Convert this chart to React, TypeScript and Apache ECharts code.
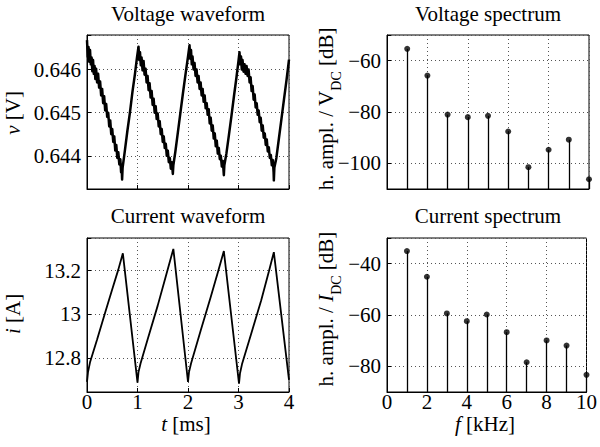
import React, { useEffect, useRef } from "react";
import * as echarts from "echarts";

// ---------- data ----------
// Voltage waveform samples [t (ms), v (V)]
const voltageWave: [number, number][] = [
  [0.0, 0.64668], [0.015, 0.6463], [0.03, 0.64652], [0.045, 0.64618], [0.06, 0.64645], [0.075, 0.64612],
  [0.09, 0.64628], [0.105, 0.64596], [0.12, 0.64622], [0.135, 0.6459], [0.15, 0.64608], [0.165, 0.64578],
  [0.18, 0.64602], [0.2, 0.6457], [0.22, 0.6459], [0.24, 0.64558], [0.26, 0.64572], [0.28, 0.6454],
  [0.3, 0.64555], [0.32, 0.64522], [0.34, 0.64538], [0.36, 0.64505], [0.38, 0.6452], [0.4, 0.6449],
  [0.42, 0.645], [0.44, 0.64468], [0.46, 0.64482], [0.48, 0.6445], [0.5, 0.64462], [0.52, 0.64432],
  [0.54, 0.64445], [0.56, 0.64412], [0.58, 0.64425], [0.6, 0.64395], [0.62, 0.64408], [0.64, 0.6438],
  [0.66, 0.64392], [0.675, 0.64362], [0.685, 0.6438], [0.695, 0.64345], [0.705, 0.64372],
  [0.75, 0.64412], [0.8, 0.64458], [0.85, 0.645], [0.9, 0.64548], [0.95, 0.6459], [0.99, 0.64628], [1.02, 0.64653],
  [1.035, 0.64622], [1.05, 0.6464], [1.065, 0.6461], [1.08, 0.64628], [1.1, 0.64598], [1.12, 0.6462],
  [1.14, 0.64588], [1.16, 0.64602], [1.18, 0.6457], [1.2, 0.64585], [1.22, 0.64552], [1.24, 0.64568],
  [1.26, 0.64535], [1.28, 0.6455], [1.3, 0.64518], [1.32, 0.64532], [1.34, 0.645], [1.36, 0.64515],
  [1.38, 0.64485], [1.4, 0.64498], [1.42, 0.64468], [1.44, 0.6448], [1.46, 0.6445], [1.48, 0.64462],
  [1.5, 0.64432], [1.52, 0.64445], [1.54, 0.64418], [1.56, 0.64428], [1.58, 0.644], [1.6, 0.64412],
  [1.62, 0.64385], [1.64, 0.64395], [1.66, 0.6437], [1.68, 0.64385], [1.7, 0.64358], [1.71, 0.64378],
  [1.75, 0.6441], [1.8, 0.64455], [1.85, 0.645], [1.9, 0.64545], [1.95, 0.64588], [2.0, 0.6463], [2.03, 0.64656],
  [2.045, 0.64625], [2.06, 0.64645], [2.075, 0.64612], [2.09, 0.6463], [2.11, 0.646], [2.13, 0.64615],
  [2.15, 0.64585], [2.17, 0.646], [2.19, 0.6457], [2.21, 0.64585], [2.23, 0.64555], [2.25, 0.6457],
  [2.27, 0.6454], [2.29, 0.64555], [2.31, 0.64525], [2.33, 0.6454], [2.35, 0.6451], [2.37, 0.64522],
  [2.39, 0.64495], [2.41, 0.64508], [2.43, 0.64475], [2.45, 0.64488], [2.47, 0.64458], [2.49, 0.6447],
  [2.51, 0.6444], [2.53, 0.64452], [2.55, 0.64422], [2.57, 0.64435], [2.59, 0.64405], [2.61, 0.64418],
  [2.63, 0.64392], [2.65, 0.644], [2.67, 0.64375], [2.69, 0.64388], [2.71, 0.64355], [2.72, 0.64378],
  [2.76, 0.64405], [2.81, 0.64448], [2.86, 0.64492], [2.91, 0.64538], [2.96, 0.64582], [3.0, 0.6462], [3.02, 0.6464],
  [3.035, 0.64612], [3.05, 0.6463], [3.065, 0.646], [3.08, 0.64622], [3.1, 0.64595], [3.12, 0.64612],
  [3.14, 0.6459], [3.16, 0.64608], [3.18, 0.64585], [3.2, 0.646], [3.22, 0.6457], [3.24, 0.64582],
  [3.26, 0.6455], [3.28, 0.64562], [3.3, 0.6453], [3.32, 0.64542], [3.34, 0.64512], [3.36, 0.64522],
  [3.38, 0.64495], [3.4, 0.64505], [3.42, 0.64478], [3.44, 0.64488], [3.46, 0.64458], [3.48, 0.6447],
  [3.5, 0.64442], [3.52, 0.64452], [3.54, 0.64425], [3.56, 0.64438], [3.58, 0.6441], [3.6, 0.6442],
  [3.62, 0.64395], [3.64, 0.64402], [3.66, 0.64378], [3.68, 0.6439], [3.695, 0.64362], [3.7, 0.64343],
  [3.71, 0.64372], [3.75, 0.64395], [3.8, 0.6444], [3.85, 0.64485], [3.9, 0.6453], [3.95, 0.64575], [4.0, 0.64623],
];

// Current waveform samples [t (ms), i (A)]
const currentWave: [number, number][] = [
  [0.0, 12.69], [0.02, 12.735], [0.06, 12.78], [0.2, 12.885], [0.36, 13.008], [0.5, 13.115], [0.62, 13.205], [0.71, 13.28],
  [1.0, 12.687], [1.02, 12.735], [1.06, 12.775], [1.2, 12.885], [1.4, 13.04], [1.55, 13.165], [1.71, 13.3],
  [2.0, 12.69], [2.02, 12.735], [2.06, 12.775], [2.25, 12.925], [2.45, 13.08], [2.6, 13.2], [2.71, 13.29],
  [3.01, 12.682], [3.03, 12.73], [3.07, 12.772], [3.25, 12.91], [3.45, 13.065], [3.6, 13.195], [3.7, 13.285],
  [4.0, 12.7],
];

// Spectra
const harmonicsKHz = [1, 2, 3, 4, 5, 6, 7, 8, 9, 10];
const voltageSpectrumDb = [-55.4, -65.8, -81.0, -82.0, -81.5, -87.6, -101.5, -94.7, -90.8, -106.2];
const currentSpectrumDb = [-35.1, -45.1, -59.4, -62.4, -59.8, -66.7, -78.4, -69.9, -71.9, -83.3];

// Axis ranges
const timeRange = [0, 4];
const freqRange = [0, 10];
const voltRange = [0.64323, 0.6468];
const currRange = [12.644, 13.35];
const vSpecRange = [-110, -50];
const iSpecRange = [-90, -30];

const titles = ["Voltage waveform", "Voltage spectrum", "Current waveform", "Current spectrum"];

const FONT = "Liberation Serif";

export default function App() {
  const ref = useRef<HTMLDivElement>(null);
  useEffect(() => {
    if (!ref.current) return;
    const chart = echarts.init(ref.current, null, { renderer: "svg" });

    const grids = [
      { left: 87, top: 35, width: 202, height: 154 },
      { left: 387, top: 35, width: 202, height: 154 },
      { left: 87, top: 238, width: 202, height: 154 },
      { left: 387, top: 238, width: 202, height: 154 },
    ].map((g) => ({ ...g, show: true, borderColor: "#000", borderWidth: 1, backgroundColor: "transparent" }));

    const splitLine = { show: true, lineStyle: { color: "#555", width: 1, type: [1, 3] as any } };
    const axisLine = { show: true, onZero: false, lineStyle: { color: "#000", width: 1 } };
    const axisTick = { show: true, inside: true, length: 4, lineStyle: { color: "#000" } };
    const labelBase = { color: "#000", fontFamily: FONT, fontSize: 21 };

    const isMult = (v: number, step: number) => Math.abs(v / step - Math.round(v / step)) < 1e-6;
    const minusFmt = (v: number) => (isMult(v, 20) ? (v < 0 ? "\u2212" + Math.abs(v) : String(v)) : "");

    const xAxis = [
      { gridIndex: 0, type: "value", min: timeRange[0], max: timeRange[1], interval: 1, axisLine, axisTick, splitLine, axisLabel: { show: false } },
      { gridIndex: 1, type: "value", min: freqRange[0], max: freqRange[1], interval: 2, axisLine, axisTick, splitLine, axisLabel: { show: false } },
      { gridIndex: 2, type: "value", min: timeRange[0], max: timeRange[1], interval: 1, axisLine, axisTick, splitLine, axisLabel: { ...labelBase, margin: -1, formatter: (v: number) => String(v) } },
      { gridIndex: 3, type: "value", min: freqRange[0], max: freqRange[1], interval: 2, axisLine, axisTick, splitLine, axisLabel: { ...labelBase, margin: -1, formatter: (v: number) => String(v) } },
    ];
    const yAxis = [
      { gridIndex: 0, type: "value", min: voltRange[0], max: voltRange[1], splitNumber: 3, axisLine, axisTick, splitLine,
        axisLabel: { ...labelBase, margin: 6, formatter: (v: number) => (isMult(v, 0.001) ? v.toFixed(3) : "") } },
      { gridIndex: 1, type: "value", min: vSpecRange[0], max: vSpecRange[1], splitNumber: 3, axisLine, axisTick, splitLine,
        axisLabel: { ...labelBase, margin: 6, formatter: minusFmt } },
      { gridIndex: 2, type: "value", min: currRange[0], max: currRange[1], splitNumber: 3, axisLine, axisTick, splitLine,
        axisLabel: { ...labelBase, margin: 6, formatter: (v: number) => (isMult(v, 0.2) ? String(Math.round(v * 10) / 10) : "") } },
      { gridIndex: 3, type: "value", min: iSpecRange[0], max: iSpecRange[1], splitNumber: 3, axisLine, axisTick, splitLine,
        axisLabel: { ...labelBase, margin: 6, formatter: minusFmt } },
    ];

    const stemSeries = (idx: number, vals: number[], base: number) => ({
      type: "scatter",
      xAxisIndex: idx,
      yAxisIndex: idx,
      data: harmonicsKHz.map((h, i) => [h, vals[i]]),
      symbol: "circle",
      symbolSize: 6,
      itemStyle: { color: "#000" },
      emphasis: { disabled: true },
      clip: false,
      z: 3,
      markLine: {
        silent: true,
        symbol: "none",
        label: { show: false },
        lineStyle: { color: "#000", width: 1.3, type: "solid" },
        emphasis: { disabled: true },
        data: harmonicsKHz.map((h, i) => [{ coord: [h, base] }, { coord: [h, vals[i]] }]),
      },
    });

    // rich styles for labels with subscripts
    const richSub = {
      n: { fontFamily: FONT, fontSize: 21, color: "#000", lineHeight: 34 },
      i: { fontFamily: FONT, fontSize: 21, fontStyle: "italic", color: "#000", lineHeight: 34 },
      s: { fontFamily: FONT, fontSize: 14, color: "#000", lineHeight: 14, verticalAlign: "bottom" },
    };
    // rich styles for plain labels (tight boxes)
    const richPlain = {
      n: { fontFamily: FONT, fontSize: 21, color: "#000", lineHeight: 20 },
      i: { fontFamily: FONT, fontSize: 21, fontStyle: "italic", color: "#000", lineHeight: 20 },
    };

    const txt = (x: number, y: number, text: string, rotate = false, sub = false) => ({
      type: "text",
      x,
      y,
      rotation: rotate ? Math.PI / 2 : 0,
      silent: true,
      style: { text, rich: sub ? richSub : richPlain, fill: "#000", fontFamily: FONT, fontSize: 21, align: "center", verticalAlign: "middle" },
    });

    const titleCenters = [
      [188, 13.5], [488, 13.5], [188, 215.5], [488, 215.5],
    ];

    chart.setOption({
      animation: false,
      grid: grids,
      xAxis,
      yAxis,
      series: [
        { type: "line", xAxisIndex: 0, yAxisIndex: 0, data: voltageWave, showSymbol: false, lineStyle: { color: "#000", width: 2.5, join: "round" }, emphasis: { disabled: true } },
        stemSeries(1, voltageSpectrumDb, vSpecRange[0]),
        { type: "line", xAxisIndex: 2, yAxisIndex: 2, data: currentWave, showSymbol: false, lineStyle: { color: "#000", width: 1.8 }, emphasis: { disabled: true } },
        stemSeries(3, currentSpectrumDb, iSpecRange[0]),
      ],
      graphic: [
        ...titles.map((t, k) => txt(titleCenters[k][0], titleCenters[k][1], "{n|" + t + "}")),
        txt(13, 113, "{i|v}{n| [V]}", true),
        txt(13, 314, "{i|i}{n| [A]}", true),
        txt(326, 109, "{n|h. ampl. / V}{s|DC}{n| [dB]}", true, true),
        txt(326, 309, "{n|h. ampl. / }{i|I}{s|DC}{n| [dB]}", true, true),
        txt(186, 424, "{i|t}{n| [ms]}"),
        txt(485, 424, "{i|f}{n| [kHz]}"),
      ],
    });
    return () => chart.dispose();
  }, []);
  return <div ref={ref} style={{ position: "absolute", left: 0, top: 0, width: 600, height: 447 }} />;
}
